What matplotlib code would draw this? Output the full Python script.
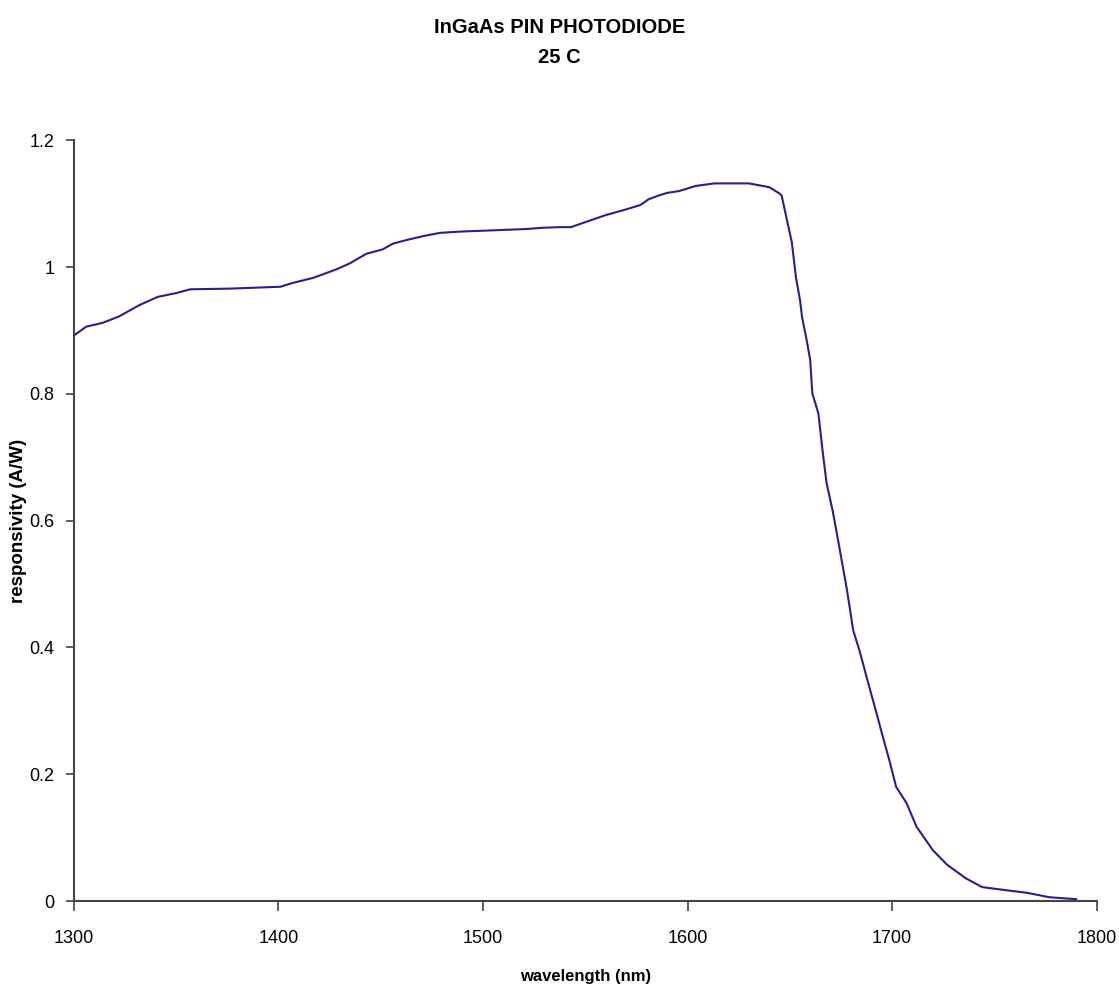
import numpy as np
import matplotlib
matplotlib.use("Agg")
import matplotlib.pyplot as plt
from matplotlib.ticker import FuncFormatter

# responsivity curve
wavelength = [1300, 1306, 1314, 1322, 1332, 1341, 1350, 1357, 1376, 1401,
              1407, 1417, 1428, 1435, 1443, 1451, 1456, 1463, 1471, 1479,
              1489, 1505, 1521, 1529, 1537, 1543, 1551, 1560, 1570, 1577,
              1581, 1586, 1590, 1596, 1604, 1613, 1630, 1635, 1640, 1645,
              1646, 1651, 1653, 1655, 1656, 1658, 1660, 1661, 1664, 1666,
              1668, 1671, 1673, 1678, 1681, 1684, 1688, 1692, 1695, 1699,
              1702, 1707, 1712, 1720, 1727, 1736, 1744, 1756, 1766, 1777,
              1790]
responsivity = [0.892, 0.906, 0.912, 0.922, 0.940, 0.953, 0.959, 0.965, 0.966, 0.969,
                0.975, 0.983, 0.996, 1.006, 1.021, 1.028, 1.037, 1.043, 1.049, 1.054,
                1.056, 1.058, 1.060, 1.062, 1.063, 1.063, 1.072, 1.082, 1.091, 1.098,
                1.107, 1.113, 1.117, 1.120, 1.128, 1.132, 1.132, 1.129, 1.126, 1.116,
                1.113, 1.039, 0.984, 0.948, 0.921, 0.889, 0.853, 0.801, 0.769, 0.711,
                0.659, 0.615, 0.580, 0.490, 0.427, 0.396, 0.348, 0.301, 0.265, 0.218,
                0.180, 0.155, 0.117, 0.080, 0.057, 0.036, 0.022, 0.017, 0.013, 0.006,
                0.003]

x_ticks = [1300, 1400, 1500, 1600, 1700, 1800]
y_ticks = [0, 0.2, 0.4, 0.6, 0.8, 1.0, 1.2]

plt.rcParams['font.family'] = ['Liberation Sans', 'DejaVu Sans']

fig = plt.figure(figsize=(11.19, 9.88), dpi=100)
ax = fig.add_axes([0.066, 0.088, 0.914, 0.770])

ax.plot(wavelength, responsivity, color='#22228f', lw=1.5)

ax.set_xlim(1300, 1800)
ax.set_ylim(0, 1.2)
ax.set_xticks(x_ticks)
ax.set_yticks(y_ticks)
ax.yaxis.set_major_formatter(FuncFormatter(lambda v, p: f'{v:g}'))

for s in ['top', 'right']:
    ax.spines[s].set_visible(False)
for s in ['left', 'bottom']:
    ax.spines[s].set_color('#444444')
    ax.spines[s].set_linewidth(1.5)

ax.tick_params(axis='x', direction='out', length=7, width=1.2, colors='#444444',
               labelcolor='black', labelsize=13, pad=14)
ax.tick_params(axis='y', direction='out', length=6, width=1.2, colors='#444444',
               labelcolor='black', labelsize=13, pad=8)

ax.set_xlabel('wavelength (nm)', fontsize=12, fontweight='bold', labelpad=16)
ax.set_ylabel('responsivity (A/W)', fontsize=13.5, fontweight='bold')
ax.yaxis.set_label_coords(-0.046, 0.5)

fig.text(0.5, 0.972, 'InGaAs PIN PHOTODIODE', ha='center', va='center',
         fontsize=14.5, fontweight='bold')
fig.text(0.5, 0.942, '25 C', ha='center', va='center',
         fontsize=14.5, fontweight='bold')

fig.savefig('out.png', dpi=100)
